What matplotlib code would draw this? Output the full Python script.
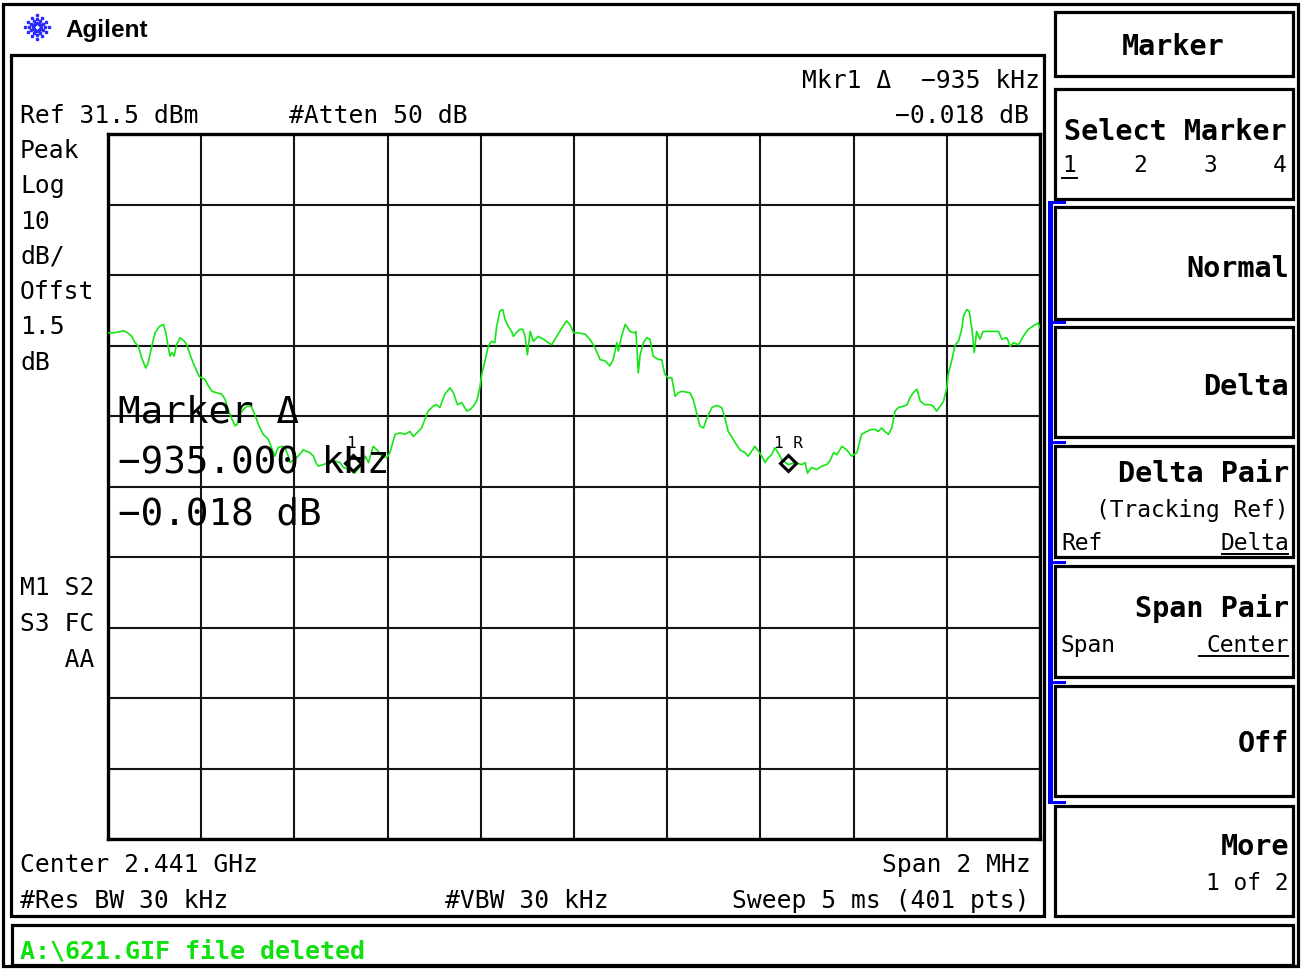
import numpy as np
import matplotlib
matplotlib.use("Agg")
import matplotlib.pyplot as plt
from matplotlib.patches import Rectangle

freq_khz = [-1000, -989, -978, -967, -960, -949, -942, -935, -928, -919, -914, -906, -899, -890, -881, -876,
            -871, -867, -863, -858, -853, -845, -836, -831, -824, -817, -810, -804, -799, -792, -785, -777,
            -767, -756, -749, -742, -735, -727, -723, -717, -710, -700, -692, -685, -676, -667, -656, -649,
            -642, -635, -627, -620, -613, -609, -602, -592, -581, -574, -567, -559, -554, -549, -538, -527,
            -513, -502, -495, -481, -470, -459, -448, -441, -431, -423, -413, -402, -395, -384, -373, -363,
            -352, -345, -334, -327, -320, -313, -302, -295, -288, -277, -266, -259, -250, -241, -230, -223,
            -216, -209, -202, -198, -191, -184, -177, -170, -166, -159, -153, -148, -141, -134, -130, -124,
            -116, -110, -105, -100, -94, -87, -77, -66, -55, -48, -37, -26, -16, -9, -1, 9,
            24, 34, 45, 56, 67, 77, 84, 92, 95, 102, 110, 120, 129, 133, 138, 142,
            149, 156, 163, 170, 181, 188, 195, 202, 210, 217, 224, 231, 249, 256, 263, 270,
            278, 285, 296, 306, 317, 324, 331, 338, 346, 356, 367, 374, 381, 388, 396, 403,
            410, 417, 424, 431, 438, 446, 460, 474, 489, 496, 501, 510, 521, 532, 542, 549,
            557, 564, 575, 585, 596, 607, 617, 628, 639, 646, 653, 660, 667, 675, 682, 689,
            696, 707, 715, 721, 728, 736, 743, 753, 764, 771, 778, 786, 793, 800, 803, 811,
            818, 825, 832, 836, 843, 848, 854, 857, 859, 864, 871, 878, 893, 911, 918, 929,
            936, 943, 954, 964, 975, 986, 996, 1000]
level_dbm = [3.3, 3.3, 3.4, 3.6, 3.4, 2.8, 1.9, 1.4, -0.2, -1.7, -1.0, 1.4, 3.3, 4.2, 4.5, 3.3,
             1.4, 0.0, 0.5, 0.0, 1.6, 2.6, 2.1, 1.6, 0.2, -1.0, -2.1, -2.9, -3.1, -3.3, -4.2, -5.0,
             -5.2, -5.4, -6.1, -7.6, -8.8, -9.9, -9.7, -8.3, -7.6, -7.0, -7.2, -8.3, -9.9, -11.1, -11.8, -13.0,
             -14.2, -13.0, -12.8, -13.0, -14.2, -15.1, -14.7, -14.2, -13.3, -13.5, -13.7, -14.2, -15.1, -15.6, -15.4, -15.1,
             -14.9, -15.1, -15.8, -16.1, -16.6, -15.6, -14.2, -15.1, -12.8, -13.3, -14.2, -14.4, -13.7, -11.1, -10.9, -11.1,
             -10.7, -11.4, -10.7, -10.2, -9.0, -7.8, -7.1, -6.9, -7.3, -5.4, -4.5, -5.2, -6.9, -6.6, -7.8, -7.6,
             -7.1, -6.4, -4.5, -2.6, -0.7, 1.4, 2.1, 1.9, 4.2, 6.4, 6.6, 5.2, 4.2, 3.5, 2.8, 3.3,
             3.8, 3.8, 2.8, 0.2, 3.5, 2.1, 2.8, 2.4, 1.9, 1.6, 2.8, 4.0, 5.0, 4.5, 3.3, 3.3,
             3.1, 2.4, 1.2, -0.5, -0.7, -1.4, -0.5, 1.9, 0.7, 2.8, 4.5, 3.5, 3.3, 3.5, -2.4, 0.2,
             1.9, 2.6, 2.4, 0.0, -0.5, -0.5, -2.6, -3.1, -3.1, -5.7, -5.2, -5.0, -5.2, -6.2, -8.0, -9.9,
             -10.2, -8.8, -7.3, -7.0, -7.3, -8.8, -10.7, -11.4, -12.3, -13.3, -13.7, -14.2, -13.5, -12.8, -13.5, -14.2,
             -15.1, -14.4, -14.0, -13.0, -13.7, -14.7, -15.4, -15.1, -15.4, -15.1, -16.6, -15.8, -16.1, -15.6, -15.4, -14.9,
             -13.7, -14.0, -12.8, -13.3, -14.2, -13.7, -11.1, -10.7, -10.4, -10.4, -10.7, -10.2, -10.7, -11.1, -10.2, -7.8,
             -7.3, -7.1, -6.9, -5.9, -5.2, -4.7, -6.4, -6.9, -6.9, -7.1, -7.8, -7.1, -6.4, -4.5, -2.6, -0.5,
             1.6, 2.1, 3.8, 5.7, 6.6, 6.4, 3.8, 1.9, 0.5, 3.5, 2.4, 3.5, 3.5, 3.5, 2.4, 2.6,
             1.4, 1.9, 1.6, 2.8, 3.8, 4.3, 4.7, 4.0]

span_khz = 2000
ref_level_dbm = 31.5
db_per_div = 10
n_div = 10
ref_marker_khz = 460
ref_marker_dbm = -15.2
delta_khz = -935
delta_db = -0.018

left_labels = ["Peak", "Log", "10", "dB/", "Offst", "1.5", "dB"]
status_labels = ["M1 S2", "S3 FC", "   AA"]

# ---------------- figure ----------------
W, H = 1301, 970
fig = plt.figure(figsize=(W / 100, H / 100), dpi=100)
fig.patch.set_facecolor("white")

MONO = ["DejaVu Sans Mono"]
TRACE = "#14e614"

# graticule
gx0, gx1, gy0, gy1 = 108, 1040, 135, 840
ax = fig.add_axes([gx0 / W, 1 - gy1 / H, (gx1 - gx0) / W, (gy1 - gy0) / H], zorder=1)
ax.set_xlim(-span_khz / 2, span_khz / 2)
ax.set_ylim(ref_level_dbm - n_div * db_per_div, ref_level_dbm)
ax.set_xticks(np.linspace(-span_khz / 2, span_khz / 2, n_div + 1))
ax.set_yticks(np.linspace(ref_level_dbm - n_div * db_per_div, ref_level_dbm, n_div + 1))
ax.grid(True, color="#151515", lw=1.5)
ax.tick_params(length=0, labelbottom=False, labelleft=False)
for s in ax.spines.values():
    s.set_linewidth(2.4)
    s.set_color("black")
ax.plot(freq_khz, level_dbm, color=TRACE, lw=1.2, zorder=3)

# reference marker
ax.plot([ref_marker_khz], [ref_marker_dbm], marker="D", ms=8.5, mfc="none", mec="black",
        mew=2.2, zorder=5, ls="none")
ax.annotate("1 R", xy=(ref_marker_khz, ref_marker_dbm), xytext=(0, 12), textcoords="offset points",
            ha="center", va="baseline", fontsize=11.5, family=MONO, color="black", zorder=6)
# delta marker
ax.plot([ref_marker_khz + delta_khz], [ref_marker_dbm + delta_db], marker="D", ms=8.5, mfc="none",
        mec="black", mew=2.2, zorder=5, ls="none")
ax.annotate("1", xy=(ref_marker_khz + delta_khz, ref_marker_dbm + delta_db), xytext=(-1, 12),
            textcoords="offset points", ha="center", va="baseline", fontsize=11.5, family=MONO,
            color="black", zorder=6)

# overlay in pixel coordinates
ov = fig.add_axes([0, 0, 1, 1], zorder=10)
ov.set_xlim(0, W)
ov.set_ylim(H, 0)
ov.axis("off")


def box(x0, y0, x1, y1, lw=2.3, ec="black"):
    ov.add_patch(Rectangle((x0, y0), x1 - x0, y1 - y0, fill=False, lw=lw, ec=ec))


def txt(x, y, s, size=17.7, ha="left", weight="normal", color="black", family=MONO):
    ov.text(x, y, s, fontsize=size, ha=ha, va="baseline", fontweight=weight, color=color,
            family=family)


# frames
box(3, 5, 1298, 967)
box(11, 56, 1044, 917)
box(12, 926, 1293, 966)

# Agilent logo
cx, cy = 37, 28
for ang in np.arange(0, 360, 30):
    r = np.array([4, 8, 12]) * (1.0 if ang % 90 == 0 else 0.85)
    ov.plot(cx + r * np.cos(np.radians(ang)), cy + r * np.sin(np.radians(ang)), ls="none",
            marker="s", ms=1.6, color="#2a2aff")
txt(65, 37, "Agilent", size=17.5, weight="bold", family=["Liberation Sans", "DejaVu Sans"])

# header text
txt(20, 123, "Ref 31.5 dBm")
txt(289, 123, "#Atten 50 dB")
txt(1040, 88, "Mkr1 Δ  −935 kHz", ha="right")
txt(1029, 123, "−0.018 dB", ha="right")

y = 158
for lab in left_labels:
    txt(20, y, lab)
    y += 35.3
y = 595
for lab in status_labels:
    txt(20, y, lab)
    y += 36

txt(20, 872, "Center 2.441 GHz")
txt(1031, 872, "Span 2 MHz", ha="right")
txt(20, 908, "#Res BW 30 kHz")
txt(445, 908, "#VBW 30 kHz")
txt(1029, 908, "Sweep 5 ms (401 pts)", ha="right")

# big marker readout
txt(118, 423, "Marker Δ", size=27)
txt(118, 473, "−935.000 kHz", size=27)
txt(118, 525, "−0.018 dB", size=27)

# status line
txt(20, 959, "A:\\621.GIF file deleted", size=18, weight="bold", color="#10e010")

# softkey panel
keys = [(13, 77), (90, 200), (208, 320), (328, 438), (447, 558), (567, 678), (687, 797), (807, 917)]
for (a, b) in keys:
    box(1055, a, 1293, b)

# blue bracket
ov.add_patch(Rectangle((1048, 203), 5, 600, color="#0000ff", lw=0))
for ys in [203, 323, 443, 563, 683, 803]:
    ov.add_patch(Rectangle((1048, ys - 1.5), 18, 3, color="#0000ff", lw=0))

KB = 20.5
KS = 16.5
txt(1173, 55, "Marker", size=KB, weight="bold", ha="center")
txt(1287, 140, "Select Marker", size=KB, weight="bold", ha="right")
for xk, lab in zip([1069, 1140, 1210, 1280], ["1", "2", "3", "4"]):
    txt(xk, 172, lab, size=KS, ha="center")
ov.plot([1062, 1077], [179, 179], color="black", lw=1.4)
txt(1289, 277, "Normal", size=KB, weight="bold", ha="right")
txt(1289, 395, "Delta", size=KB, weight="bold", ha="right")
txt(1289, 482, "Delta Pair", size=KB, weight="bold", ha="right")
txt(1289, 517, "(Tracking Ref)", size=KS, ha="right")
txt(1061, 550, "Ref", size=KS)
txt(1289, 550, "Delta", size=KS, ha="right")
ov.plot([1222, 1288], [555, 555], color="black", lw=1.4)
txt(1289, 617, "Span Pair", size=KB, weight="bold", ha="right")
txt(1061, 652, "Span", size=KS)
txt(1289, 652, "Center", size=KS, ha="right")
ov.plot([1199, 1288], [657, 657], color="black", lw=1.4)
txt(1289, 752, "Off", size=KB, weight="bold", ha="right")
txt(1289, 855, "More", size=KB, weight="bold", ha="right")
txt(1289, 890, "1 of 2", size=KS, ha="right")

fig.savefig("out.png", dpi=100, facecolor="white")
